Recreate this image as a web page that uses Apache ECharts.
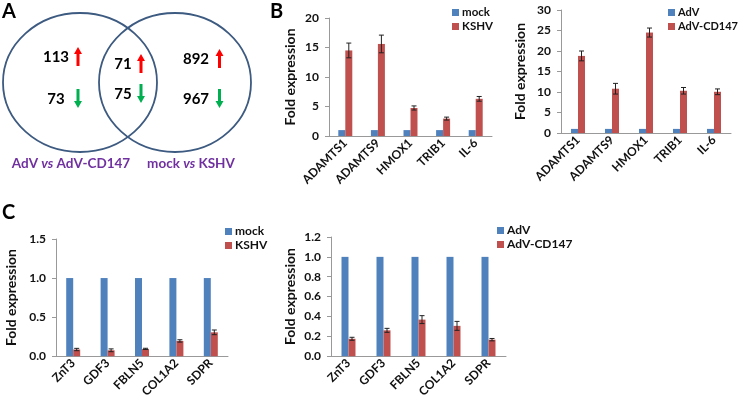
<!DOCTYPE html>
<html>
<head>
<meta charset="utf-8">
<script src="https://cdn.jsdelivr.net/npm/echarts@6/dist/echarts.min.js"></script>
<style>
  html, body { margin: 0; padding: 0; background: #fff; }
  #main { width: 738px; height: 400px; }
</style>
</head>
<body>
<div id="main"></div>
<script>
// Venn counts (up / down regulated genes): [AdV only, overlap, KSHV only]
var vennUp = [113, 71, 892];
var vennDown = [73, 75, 967];

// panel B
var genesB = ['ADAMTS1', 'ADAMTS9', 'HMOX1', 'TRIB1', 'IL-6'];
var mockB = [1, 1, 1, 1, 1];
var kshvB = [14.5, 15.6, 4.75, 2.95, 6.3];
var kshvBErr = [1.25, 1.5, 0.35, 0.25, 0.4];
var advB = [1, 1, 1, 1, 1];
var cd147B = [18.8, 10.8, 24.5, 10.3, 10.05];
var cd147BErr = [1.2, 1.3, 1.1, 0.8, 0.7];

// panel C
var genesC = ['ZnT3', 'GDF3', 'FBLN5', 'COL1A2', 'SDPR'];
var mockC = [1, 1, 1, 1, 1];
var kshvC = [0.085, 0.075, 0.093, 0.195, 0.305];
var kshvCErr = [0.015, 0.018, 0.008, 0.015, 0.03];
var advC = [1, 1, 1, 1, 1];
var cd147C = [0.175, 0.26, 0.368, 0.305, 0.166];
var cd147CErr = [0.015, 0.02, 0.04, 0.045, 0.012];

var FONT = 'Lato';
var BLUE = '#4F81BD';
var RED = '#C0504D';

var myChart = echarts.init(document.getElementById('main'));

var grids = [
    { left: 329, top: 18, width: 163, height: 118 },
    { left: 561, top: 10, width: 170, height: 123 },
    { left: 56, top: 239, width: 172, height: 121 },
    { left: 331, top: 237, width: 175, height: 127 }
];
var panels = [
    { cats: genesB, names: ['mock', 'KSHV'], a: mockB, b: kshvB, e: kshvBErr, max: 20, step: 5, dec: 0, gap: 32, bw: 7,
      legend: { left: 452, top: 6, fs: 11.5 } },
    { cats: genesB, names: ['AdV', 'AdV-CD147'], a: advB, b: cd147B, e: cd147BErr, max: 30, step: 5, dec: 0, gap: 34, bw: 7,
      legend: { left: 668, top: 6, fs: 11 } },
    { cats: genesC, names: ['mock', 'KSHV'], a: mockC, b: kshvC, e: kshvCErr, max: 1.5, step: 0.5, dec: 1, gap: 38, bw: 7,
      legend: { left: 225, top: 225, fs: 12 } },
    { cats: genesC, names: ['AdV', 'AdV-CD147'], a: advC, b: cd147C, e: cd147CErr, max: 1.2, step: 0.2, dec: 1, gap: 34, bw: 7,
      legend: { left: 497, top: 224, fs: 12 } }
];

var xAxes = [], yAxes = [], series = [], legends = [];

panels.forEach(function (p, i) {
    xAxes.push({
        type: 'category', gridIndex: i, data: p.cats,
        axisLine: { lineStyle: { color: '#999', width: 1 } },
        axisTick: { show: false },
        axisLabel: { rotate: 45, interval: 0, margin: 5, color: '#111', fontFamily: FONT, fontWeight: 'bold', fontSize: 12 }
    });
    yAxes.push({
        type: 'value', gridIndex: i, min: 0, max: p.max, interval: p.step,
        name: 'Fold expression', nameLocation: 'middle', nameRotate: 90, nameGap: p.gap,
        nameTextStyle: { color: '#111', fontFamily: FONT, fontWeight: 'bold', fontSize: 14 },
        axisLine: { show: true, lineStyle: { color: '#999', width: 1 } },
        axisTick: { show: true, length: 4, lineStyle: { color: '#999' } },
        splitLine: { show: false },
        axisLabel: {
            margin: 10, color: '#111', fontFamily: FONT, fontWeight: 'bold', fontSize: 12,
            formatter: (function (d) { return function (v) { return v.toFixed(d); }; })(p.dec)
        }
    });
    series.push({
        name: p.names[0], type: 'bar', xAxisIndex: i, yAxisIndex: i, data: p.a,
        barWidth: p.bw, barGap: '0%', itemStyle: { color: BLUE }
    });
    series.push({
        name: p.names[1], type: 'bar', xAxisIndex: i, yAxisIndex: i, data: p.b,
        barWidth: p.bw, barGap: '0%', itemStyle: { color: RED }
    });
    // error bars on the treated bars
    var errData = p.b.map(function (v, k) { return [k, v, p.e[k]]; });
    series.push({
        type: 'custom', xAxisIndex: i, yAxisIndex: i, data: errData, z: 10,
        encode: { x: 0, y: 1 },
        renderItem: (function (bw) {
            return function (params, api) {
                var k = api.value(0), v = api.value(1), e = api.value(2);
                var hi = api.coord([k, v + e]);
                var lo = api.coord([k, v - e]);
                var x = hi[0] + bw / 2;
                var st = { stroke: '#222', lineWidth: 1 };
                return {
                    type: 'group',
                    children: [
                        { type: 'line', shape: { x1: x, y1: hi[1], x2: x, y2: lo[1] }, style: st },
                        { type: 'line', shape: { x1: x - 2.5, y1: hi[1], x2: x + 2.5, y2: hi[1] }, style: st },
                        { type: 'line', shape: { x1: x - 2.5, y1: lo[1], x2: x + 2.5, y2: lo[1] }, style: st }
                    ]
                };
            };
        })(p.bw)
    });
    legends.push({
        orient: 'vertical', left: p.legend.left, top: p.legend.top,
        data: p.names, icon: 'rect', itemWidth: 7, itemHeight: 7, itemGap: 1,
        padding: 0,
        textStyle: { color: '#111', fontFamily: FONT, fontWeight: 'bold', fontSize: p.legend.fs, lineHeight: 13, padding: [0, 0, 0, -2] },
        selectedMode: false
    });
});

// Venn diagram (panel A)
var vennPos = [
    { nx: 56, uy: 57, dy: 99, ax: 78 },
    { nx: 123, uy: 64, dy: 94, ax: 141 },
    { nx: 196, uy: 59, dy: 99, ax: 219.5 }
];
function arrow(cx, y1, y2, color) {
    // y1 = tip, y2 = tail
    var dir = y2 > y1 ? 1 : -1;
    var head = 7 * dir;
    return {
        type: 'polygon',
        shape: { points: [
            [cx, y1], [cx + 4, y1 + head], [cx + 1.5, y1 + head], [cx + 1.5, y2],
            [cx - 1.5, y2], [cx - 1.5, y1 + head], [cx - 4, y1 + head]
        ] },
        style: { fill: color }
    };
}
var graphics = [
    { type: 'text', left: 2, top: 2, style: { text: 'A', font: 'bold 20px ' + FONT, fill: '#000' } },
    { type: 'text', left: 270, top: 2, style: { text: 'B', font: 'bold 20px ' + FONT, fill: '#000' } },
    { type: 'text', left: 2, top: 203, style: { text: 'C', font: 'bold 20px ' + FONT, fill: '#000' } },
    { type: 'ellipse', shape: { cx: 80, cy: 82.5, rx: 77, ry: 69.5 }, style: { fill: 'none', stroke: '#3D5A80', lineWidth: 1.8 } },
    { type: 'ellipse', shape: { cx: 175, cy: 82.5, rx: 76, ry: 69.5 }, style: { fill: 'none', stroke: '#3D5A80', lineWidth: 1.8 } },
    { type: 'text', x: 71, y: 164, style: {
        text: '{n|AdV }{i|vs}{n| AdV-CD147}', align: 'center', verticalAlign: 'middle',
        rich: {
            n: { font: 'bold 13.5px ' + FONT, fill: '#7030A0' },
            i: { font: 'italic bold 13.5px ' + FONT, fill: '#7030A0' }
        } } },
    { type: 'text', x: 191, y: 164, style: {
        text: '{n|mock }{i|vs}{n| KSHV}', align: 'center', verticalAlign: 'middle',
        rich: {
            n: { font: 'bold 13.5px ' + FONT, fill: '#7030A0' },
            i: { font: 'italic bold 13.5px ' + FONT, fill: '#7030A0' }
        } } }
];
vennPos.forEach(function (p, k) {
    graphics.push({ type: 'text', x: p.nx, y: p.uy, style: { text: String(vennUp[k]), align: 'center', verticalAlign: 'middle', font: 'bold 15px ' + FONT, fill: '#000' } });
    graphics.push({ type: 'text', x: p.nx, y: p.dy, style: { text: String(vennDown[k]), align: 'center', verticalAlign: 'middle', font: 'bold 15px ' + FONT, fill: '#000' } });
    graphics.push(arrow(p.ax, p.uy - 10, p.uy + 9, '#FF0000'));
    graphics.push(arrow(p.ax, p.dy + 9, p.dy - 10, '#00B050'));
});

var option = {
    animation: false,
    grid: grids,
    xAxis: xAxes,
    yAxis: yAxes,
    legend: legends,
    series: series,
    graphic: graphics
};
myChart.setOption(option);
window.addEventListener('resize', function () {
    myChart.resize();
});
</script>
</body>
</html>
